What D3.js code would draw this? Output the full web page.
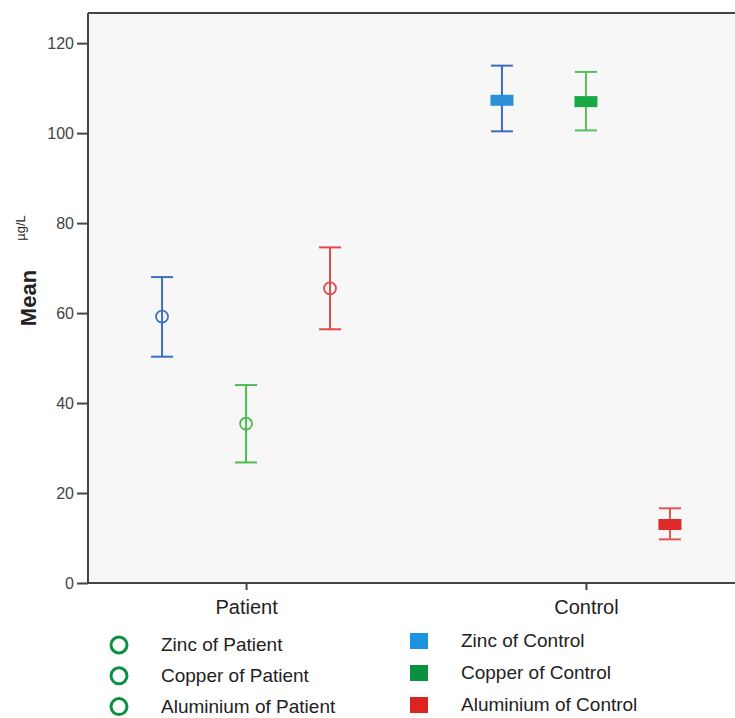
<!DOCTYPE html>
<meta charset="utf-8">
<script src="https://d3js.org/d3.v7.min.js"></script>
<style>
  body { margin: 0; background: #fff; }
  text { font-family: "Liberation Sans", Arial, sans-serif; }
</style>
<div id="chart"></div>
<script>
    // groups on the x axis and the three metals inside each group
    var groups = ["Patient", "Control"]
    var metals = ["Zinc", "Copper", "Aluminium"]

    // mean and error bar ends (µg/L)
    var patientMean = [59.2, 35.4, 65.5]
    var patientLow  = [50.3, 26.8, 56.4]
    var patientHigh = [68.0, 44.0, 74.6]

    var controlMean = [107.3, 107.0, 13.0]
    var controlLow  = [100.4, 100.6, 9.7]
    var controlHigh = [115.0, 113.6, 16.6]

    var yTicks = [0, 20, 40, 60, 80, 100, 120]

    // colours
    var lineColors   = ["#3d6ec0", "#4fba52", "#e04a4a"]
    var controlLines = ["#3a6bbf", "#55c05c", "#e35555"]
    var controlFill  = ["#2b8fd5", "#18a846", "#de2a2a"]
    var legendFill   = ["#1c93e0", "#0a9140", "#de2420"]

    var W = 735, H = 718
    var margin = {top: 13, right: -9, bottom: 135, left: 88},
        width = W - margin.left - margin.right,
        height = H - margin.top - margin.bottom;

    var svg = d3.select("#chart")
      .append("svg")
      .attr("width", W)
      .attr("height", H)

    var g = svg.append("g")
      .attr("transform", "translate(" + margin.left + "," + margin.top + ")");

    var x = d3.scalePoint()
      .domain(groups)
      .range([0, width])
      .padding(0.465)

    var inner = d3.scalePoint()
      .domain(metals)
      .range([-84, 84])

    var y = d3.scaleLinear()
      .domain([0, 126.7])
      .range([height, 0])

    // plot background
    g.append("rect")
      .attr("x", 0).attr("y", 0)
      .attr("width", width).attr("height", height)
      .attr("fill", "#f7f7f7")

    // top frame line
    g.append("line")
      .attr("x1", 0).attr("x2", width)
      .attr("y1", 0).attr("y2", 0)
      .attr("stroke", "#444").attr("stroke-width", 2)

    // y axis
    var yAxis = g.append("g")
      .call(d3.axisLeft(y).tickValues(yTicks).tickSize(11).tickPadding(3))
    yAxis.select(".domain").attr("stroke", "#444").attr("stroke-width", 2)
      .attr("d", "M0," + height + "V0")
    yAxis.selectAll(".tick line").attr("stroke", "#444").attr("stroke-width", 2)
    yAxis.selectAll(".tick text")
      .attr("fill", "#444")
      .attr("font-size", "16px")
      .style("font-family", "Liberation Sans, Arial, sans-serif")

    // x axis
    var xAxis = g.append("g")
      .attr("transform", "translate(0," + height + ")")
      .call(d3.axisBottom(x).tickSize(7).tickPadding(10))
    xAxis.select(".domain").attr("stroke", "#444").attr("stroke-width", 2)
      .attr("d", "M0,0H" + width)
    xAxis.selectAll(".tick line").attr("stroke", "#444").attr("stroke-width", 2)
    xAxis.selectAll(".tick text")
      .attr("fill", "#222")
      .attr("font-size", "20px")
      .style("font-family", "Liberation Sans, Arial, sans-serif")

    // y title
    svg.append("text")
      .attr("transform", "translate(36,298) rotate(-90)")
      .attr("text-anchor", "middle")
      .attr("font-size", "22px")
      .attr("font-weight", "bold")
      .attr("fill", "#222")
      .text("Mean")
    svg.append("text")
      .attr("transform", "translate(25,228) rotate(-90)")
      .attr("text-anchor", "middle")
      .attr("font-size", "13px")
      .attr("fill", "#222")
      .text("µg/L")

    // build rows from the arrays
    var rows = []
    metals.forEach(function(m, i) {
      rows.push({group: "Patient", metal: m, i: i, mean: patientMean[i], lo: patientLow[i], hi: patientHigh[i]})
      rows.push({group: "Control", metal: m, i: i, mean: controlMean[i], lo: controlLow[i], hi: controlHigh[i]})
    })

    var capW = 11
    var marks = g.selectAll(".mark")
      .data(rows)
      .enter()
      .append("g")
      .attr("transform", function(d) { return "translate(" + (x(d.group) + inner(d.metal)) + ",0)" })

    function col(d) { return d.group == "Patient" ? lineColors[d.i] : controlLines[d.i] }

    marks.append("line")
      .attr("x1", 0).attr("x2", 0)
      .attr("y1", function(d) { return y(d.lo) })
      .attr("y2", function(d) { return y(d.hi) })
      .attr("stroke", col).attr("stroke-width", 2)
    marks.selectAll(".cap")
      .data(function(d) { return [{v: d.lo, d: d}, {v: d.hi, d: d}] })
      .enter()
      .append("line")
      .attr("x1", -capW).attr("x2", capW)
      .attr("y1", function(c) { return y(c.v) })
      .attr("y2", function(c) { return y(c.v) })
      .attr("stroke", function(c) { return col(c.d) })
      .attr("stroke-width", 2)

    marks.filter(function(d) { return d.group == "Patient" })
      .append("circle")
      .attr("cx", 0)
      .attr("cy", function(d) { return y(d.mean) })
      .attr("r", 6)
      .attr("fill", "none")
      .attr("stroke", col)
      .attr("stroke-width", 1.8)

    marks.filter(function(d) { return d.group == "Control" })
      .append("rect")
      .attr("x", -11.5)
      .attr("y", function(d) { return y(d.mean) - 5.5 })
      .attr("width", 23)
      .attr("height", 11)
      .attr("fill", function(d) { return controlFill[d.i] })

    // legend
    var legP = svg.append("g").attr("transform", "translate(0,645)")
    metals.forEach(function(m, i) {
      var row = legP.append("g").attr("transform", "translate(0," + (i * 30.8) + ")")
      row.append("circle")
        .attr("cx", 119).attr("cy", 0).attr("r", 8)
        .attr("fill", "none").attr("stroke", "#0a9140").attr("stroke-width", 3)
      row.append("text")
        .attr("x", 161).attr("y", 6)
        .attr("font-size", "19px").attr("fill", "#222")
        .text(m + " of Patient")
    })
    var legC = svg.append("g").attr("transform", "translate(0,641)")
    metals.forEach(function(m, i) {
      var row = legC.append("g").attr("transform", "translate(0," + (i * 32) + ")")
      row.append("rect")
        .attr("x", 410).attr("y", -8).attr("width", 18).attr("height", 16)
        .attr("fill", legendFill[i])
      row.append("text")
        .attr("x", 461).attr("y", 6)
        .attr("font-size", "19px").attr("fill", "#222")
        .text(m + " of Control")
    })
</script>
